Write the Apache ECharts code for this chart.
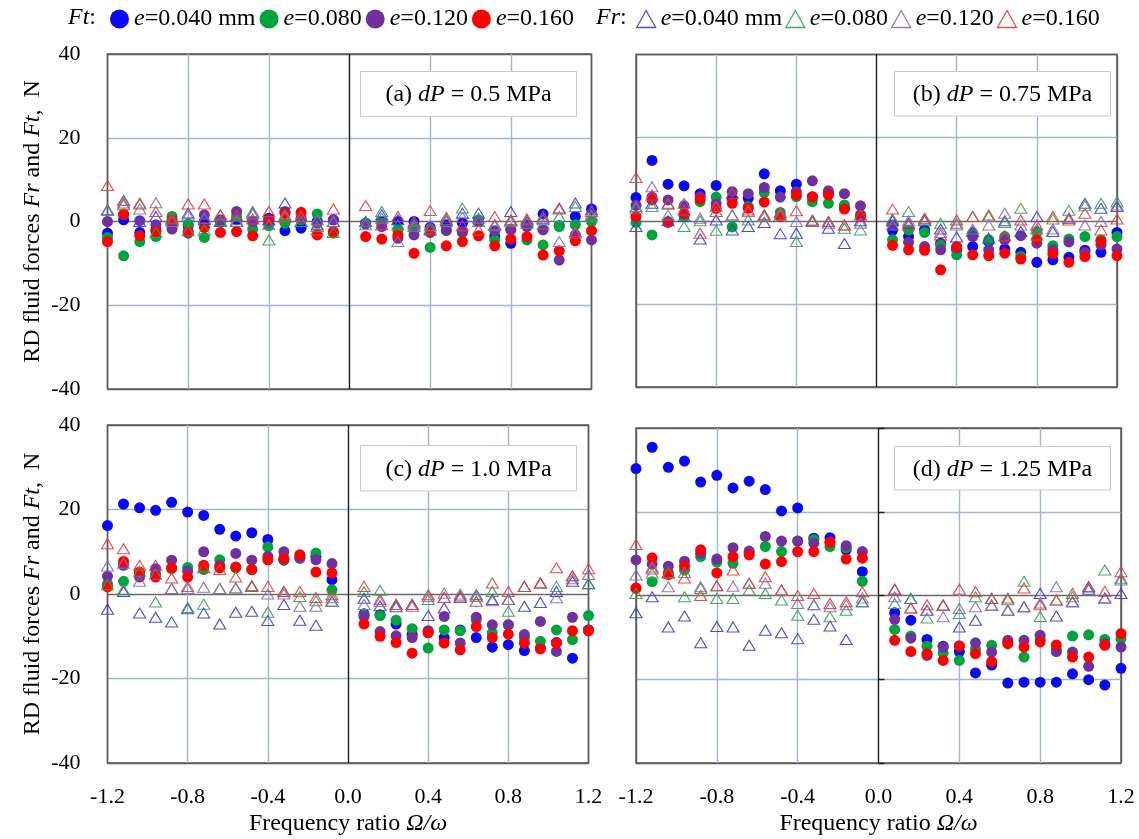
<!DOCTYPE html>
<html>
<head>
<meta charset="utf-8">
<script src="https://cdn.jsdelivr.net/npm/echarts@6/dist/echarts.min.js"></script>
<style>
  html, body { margin: 0; padding: 0; background: #ffffff; }
  #chart { width: 1139px; height: 839px; }
</style>
</head>
<body>
<div id="chart"></div>
<script>
// Frequency ratio Omega/omega of every measurement point
const ratios = [-1.2, -1.12, -1.04, -0.96, -0.88, -0.8, -0.72, -0.64, -0.56, -0.48, -0.4, -0.32, -0.24, -0.16, -0.08,
                0.08, 0.16, 0.24, 0.32, 0.4, 0.48, 0.56, 0.64, 0.72, 0.8, 0.88, 0.96, 1.04, 1.12, 1.2];

// (a) dP = 0.5 MPa — tangential force Ft, N
const ftA040 = [-2.8, 0.4, -2.6, -2.0, -0.4, -1.0, 0.0, 0.0, 0.4, 0.0, 0.8, -2.2, -1.6, 0.0, 0.4,
                -0.4, 0.0, 0.0, 0.0, -1.4, -0.8, -0.4, 0.0, -3.6, -5.2, -0.8, 1.8, -1.0, 1.2, 3.0];
const ftA080 = [-3.8, -8.2, -4.8, -3.6, 1.2, -0.6, -3.8, 0.2, 1.2, -1.8, -1.0, -0.4, 0.4, 1.8, -2.8,
                -0.4, -0.4, -2.0, -1.6, -6.2, -2.2, -2.6, 0.4, -4.4, -1.8, -4.4, -5.6, -1.2, -0.8, 0.0];
const ftA120 = [0.0, 1.6, 0.2, -0.8, -1.8, -2.8, 1.6, 0.4, 2.4, 0.0, 0.2, 2.4, 0.8, -0.4, 0.4,
                -0.6, -1.2, -4.0, -3.2, -1.8, -2.0, -2.4, 0.0, -2.2, -2.0, -1.2, -2.0, -9.2, -3.2, -4.4];
const ftA160 = [-4.8, 1.8, -3.4, -2.4, 0.4, -2.4, -1.4, -2.6, -2.4, -3.4, 0.4, 2.0, 2.2, -3.2, -2.4,
                -3.6, -4.2, -3.2, -7.6, -2.6, -5.8, -4.8, -3.4, -5.8, -4.2, -3.6, -8.0, -7.0, -4.6, -2.2];
// (a) dP = 0.5 MPa — radial force Fr, N
const frA040 = [2.8, 5.0, 0.0, 1.2, 0.4, 2.0, 0.4, 0.0, 0.0, 2.0, 0.4, 4.4, 0.0, -0.8, 0.0,
                0.0, 1.6, 0.4, -0.4, -2.0, 0.4, 2.0, 2.0, -0.8, 2.4, 0.0, 0.8, 3.2, 4.4, 2.8];
const frA080 = [2.8, 4.0, 4.4, -2.6, 0.8, -2.2, -2.0, 0.2, 0.0, 2.4, -4.4, 1.2, 0.0, -1.2, -2.6,
                0.0, 2.4, -0.8, -1.2, -1.8, 0.4, 3.2, 0.0, -0.8, 0.2, 0.4, 0.4, 1.2, 3.6, 1.6];
const frA120 = [2.6, 5.0, 3.0, 4.5, 0.0, 1.5, 0.8, 1.6, 0.4, 1.8, -0.8, 1.6, 1.2, 0.4, 0.0,
                -0.8, 0.8, -4.8, -0.8, -1.0, 0.0, 1.0, 0.8, -1.0, 0.0, -0.4, -0.6, -4.8, -2.8, 1.2];
const frA160 = [8.6, 4.4, 4.2, 2.4, 0.6, 4.2, 4.2, 1.6, 1.4, 0.6, 2.4, 1.0, 1.2, -2.0, 3.0,
                3.8, -0.8, 1.2, 0.0, 2.6, 1.0, -1.0, -2.0, 1.2, 0.4, 0.6, 1.2, 3.0, -2.4, 2.4];

// (b) dP = 0.75 MPa — Ft, N
const ftB040 = [5.6, 14.5, 8.8, 8.4, 6.5, 8.5, 5.4, 5.4, 11.3, 7.2, 8.8, 5.8, 6.6, 3.2, 1.4,
                -2.3, -3.8, -2.2, -5.4, -7.0, -6.2, -5.0, -6.8, -7.6, -10.0, -9.4, -8.8, -7.1, -7.6, -2.8];
const ftB080 = [-0.4, -3.4, -0.2, 1.0, 4.6, 5.7, -1.5, 3.4, 6.8, 2.0, 5.8, 4.6, 4.2, 3.8, 1.2,
                -4.6, -2.2, -2.8, -5.9, -8.2, -3.0, -4.6, -3.8, -8.6, -2.6, -6.0, -4.4, -3.8, -4.6, -3.8];
const ftB120 = [3.7, 5.7, 5.0, 3.6, 5.8, 4.1, 7.0, 6.5, 8.0, 5.7, 7.0, 9.6, 7.2, 6.5, 3.6,
                -1.0, -5.2, -6.2, -7.0, -6.6, -3.8, -7.0, -4.6, -3.6, -5.4, -7.0, -5.1, -7.6, -5.8, -6.8];
const ftB160 = [1.0, 5.0, -0.4, 1.7, 5.2, 3.0, 4.2, 3.0, 4.5, 1.0, 6.2, 5.7, 6.2, 2.8, 1.0,
                -5.9, -7.0, -7.1, -11.8, -6.2, -8.2, -8.4, -7.8, -9.2, -4.4, -7.9, -10.0, -8.6, -5.0, -8.4];
// (b) dP = 0.75 MPa — Fr, N
const frB040 = [-1.4, 4.2, 0.0, 1.0, -4.4, 0.2, -2.2, -1.4, -0.4, -3.1, -3.0, 0.0, -1.8, -5.5, 0.0,
                0.0, -0.6, 0.0, -2.0, -3.9, -2.6, -4.2, 0.0, -2.6, 1.0, -2.6, 0.6, 4.2, 3.0, 3.4];
const frB080 = [3.4, 3.4, 4.0, -1.4, 0.0, -2.3, 1.4, 0.2, 1.0, 1.4, -5.0, 0.2, -0.2, -1.8, -2.2,
                0.4, 2.2, 0.2, -0.6, -0.6, 1.0, 1.0, -0.4, 3.0, -3.4, 0.4, 2.5, 3.6, 4.2, 4.6];
const frB120 = [3.0, 8.2, 1.4, 4.2, 0.6, 3.4, 1.4, 2.2, 1.4, 1.4, -0.2, 0.0, -0.6, -1.0, -0.6,
                -1.0, 0.0, 0.4, -2.8, -1.0, -2.0, -1.0, 1.8, -1.0, -2.0, -2.0, 0.6, -1.0, -0.2, 3.8];
const frB160 = [10.4, 6.2, 4.2, 2.6, -3.0, 2.2, 6.6, 2.6, 1.4, 2.0, 2.4, -0.2, -0.2, -1.0, 1.4,
                2.8, -1.0, 0.6, -3.4, 0.2, 1.0, 1.4, -3.6, 0.2, -1.0, 1.0, 0.2, 1.8, -2.2, 0.4];

// (c) dP = 1.0 MPa — Ft, N
const ftC040 = [16.2, 21.3, 20.4, 19.8, 21.7, 19.4, 18.6, 15.3, 13.7, 14.5, 12.9, 8.0, 8.5, 8.9, 3.4,
                -4.7, -4.9, -7.1, -9.6, -8.9, -10.3, -8.5, -10.3, -12.6, -12.0, -13.4, -12.8, -11.5, -15.2, -8.5];
const ftC080 = [2.4, 3.0, 5.0, 4.7, 6.0, 6.3, 5.8, 8.1, 6.2, 5.8, 11.1, 8.2, 9.0, 9.7, 1.0,
                -5.0, -5.1, -6.2, -8.2, -12.8, -8.5, -8.7, -6.1, -9.2, -7.3, -10.3, -11.2, -8.5, -10.8, -5.1];
const ftC120 = [4.2, 6.8, 4.0, 6.0, 8.0, 5.4, 10.0, 6.8, 9.6, 8.0, 8.9, 10.0, 8.5, 8.1, 7.2,
                -5.3, -8.9, -9.9, -10.3, -8.7, -5.3, -11.6, -5.5, -7.3, -7.3, -9.6, -6.5, -13.6, -5.5, -8.5];
const ftC160 = [1.7, 7.7, 5.2, 4.0, 6.2, 4.0, 6.8, 6.2, 6.4, 5.8, 8.1, 8.4, 9.3, 5.2, 5.0,
                -7.1, -10.0, -11.5, -14.0, -9.2, -11.6, -13.2, -7.7, -10.3, -9.5, -11.6, -13.0, -11.6, -8.7, -8.7];
// (c) dP = 1.0 MPa — Fr, N
const frC040 = [-3.6, 0.6, -4.5, -5.5, -6.6, -3.5, -4.5, -7.1, -4.3, -4.1, -6.3, -2.5, -6.2, -7.4, -1.7,
                -1.0, -2.8, -3.0, -2.5, -5.1, -3.3, -0.5, -0.2, -1.3, -1.3, -2.9, -2.0, 0.6, 3.0, 2.4];
const frC080 = [2.2, 1.0, 5.4, -1.9, 1.3, -3.2, -2.4, 1.3, 1.4, 2.0, -4.3, 0.6, -0.6, -1.6, -0.9,
                0.6, 0.9, -2.5, -2.5, -1.3, -0.8, -0.8, -0.6, 0.6, -4.1, 1.8, 2.6, 1.8, 4.3, 2.4];
const frC120 = [6.6, 7.3, 3.0, 4.7, 1.3, 1.3, 1.6, 1.3, 1.4, 1.8, 0.0, 0.0, -2.9, -2.9, -1.7,
                -2.5, -1.8, -2.5, -2.9, -0.6, 0.2, 0.0, -0.2, -1.6, -1.3, 1.8, 2.6, -0.9, 3.6, 4.6];
const frC160 = [11.9, 10.7, 6.8, 6.8, 3.8, 1.8, 6.2, 5.8, 4.0, 1.8, 1.8, 0.6, 0.6, -0.8, -0.2,
                1.8, -1.3, -2.5, -2.5, -0.2, -0.8, -0.8, -1.7, 2.6, 0.6, 1.8, 2.6, 6.2, 4.3, 6.0];

// (d) dP = 1.25 MPa — Ft, N
const ftD040 = [30.3, 35.4, 30.6, 32.1, 27.1, 28.7, 25.7, 27.3, 25.3, 20.2, 20.9, 13.7, 13.8, 10.9, 5.7,
                -4.1, -5.9, -10.5, -12.1, -13.4, -18.5, -16.6, -20.9, -20.7, -20.7, -20.7, -18.7, -20.1, -21.4, -17.4];
const ftD080 = [1.7, 3.3, 5.5, 6.1, 9.3, 8.0, 7.7, 10.2, 11.7, 10.5, 13.0, 13.3, 11.7, 11.4, 3.4,
                -8.1, -9.7, -12.1, -13.7, -15.5, -12.8, -11.9, -11.0, -14.7, -10.4, -12.8, -9.7, -9.4, -10.5, -10.3];
const ftD120 = [8.5, 7.5, 7.0, 8.2, 10.1, 8.7, 11.4, 10.6, 14.1, 13.0, 13.0, 12.5, 12.8, 11.9, 10.5,
                -5.7, -10.2, -14.3, -12.3, -12.0, -11.3, -13.5, -10.7, -10.7, -9.5, -13.4, -13.5, -16.9, -11.5, -12.3];
const ftD160 = [1.8, 9.0, 5.0, 7.1, 10.9, 5.4, 9.3, 9.7, 7.5, 8.1, 10.5, 10.5, 12.7, 8.7, 8.9,
                -10.7, -13.4, -13.9, -15.5, -12.1, -13.9, -15.8, -11.5, -12.3, -11.1, -11.8, -14.7, -14.7, -11.9, -9.1];
// (d) dP = 1.25 MPa — Fr, N
const frD040 = [-4.1, -0.3, -7.5, -4.9, -11.3, -7.4, -7.5, -11.9, -8.3, -8.9, -10.3, -5.7, -7.3, -10.5, -1.5,
                1.5, -0.7, -3.5, -2.3, -7.5, -5.9, -2.3, -3.5, -2.7, 0.5, -4.9, -1.5, 1.5, -0.6, 0.5];
const frD080 = [0.5, 5.3, 5.5, -0.3, 1.7, -0.7, -0.7, 1.3, 0.5, -1.1, -4.7, -2.2, -5.1, -3.5, -1.5,
                -1.9, -0.7, -5.4, -2.3, -4.3, -0.3, -0.7, -1.0, 3.4, -5.0, -1.1, -0.3, 2.1, 6.1, 3.7];
const frD120 = [4.9, 6.8, 2.1, 5.5, 2.1, 2.3, 2.2, 2.9, 2.9, 1.3, -1.9, -2.2, -2.7, -2.2, -0.6,
                -0.3, -3.0, -3.5, -5.1, -3.1, -2.7, -2.3, -3.5, -2.7, -1.8, 2.1, -1.5, 2.1, -0.6, 4.1];
const frD160 = [12.2, 6.3, 5.3, 4.2, 0.0, 2.3, 6.1, 2.9, 4.5, 1.3, 0.0, 0.5, -1.9, -1.5, 0.9,
                1.5, -3.0, -2.2, -2.3, 1.5, 0.9, -0.7, -0.6, 1.8, -2.2, -1.1, 0.5, 2.1, 1.0, 5.7];

// Eccentricities, panel tags and pressure differences
const eLabels = ['0.040 mm', '0.080', '0.120', '0.160'];
const panelTags = ['(a)', '(b)', '(c)', '(d)'];
const pressures = ['0.5', '0.75', '1.0', '1.25'];

// Axis ticks
const xTicks = [-1.2, -0.8, -0.4, 0.0, 0.4, 0.8, 1.2];
const yTicks = [-40, -20, 0, 20, 40];

const ftSets = [[ftA040, ftA080, ftA120, ftA160], [ftB040, ftB080, ftB120, ftB160],
                [ftC040, ftC080, ftC120, ftC160], [ftD040, ftD080, ftD120, ftD160]];
const frSets = [[frA040, frA080, frA120, frA160], [frB040, frB080, frB120, frB160],
                [frC040, frC080, frC120, frC160], [frD040, frD080, frD120, frD160]];

const FONT = '"Liberation Serif", "Times New Roman", serif';
const dotColors = ['#0a0af2', '#00a33c', '#7030a0', '#ff0000'];
const edgeColors = ['#3b3bd8', '#3a9e55', '#8a6bb0', '#e23c3c'];
const FRAME = '#5c5c5c';
const GRIDLINE = '#a3b5cf';
const ZERO_V = '#1e1e1e';
const ZERO_H = '#6a6a6a';

// Panel rectangles: (a) top-left, (b) top-right, (c) bottom-left, (d) bottom-right
const panelRects = [
  { left: 107.5, top: 54, width: 484, height: 335 },
  { left: 636, top: 54.5, width: 481, height: 332.5 },
  { left: 107.5, top: 425, width: 481, height: 338 },
  { left: 636, top: 428, width: 485, height: 335 }
];

const italic = { fontStyle: 'italic', fontFamily: FONT, fontSize: 24, color: '#000' };

const grid = panelRects.map(r => Object.assign({ show: true, borderColor: FRAME, borderWidth: 1.5,
  backgroundColor: 'rgba(0,0,0,0)', containLabel: false }, r));

const xAxis = panelRects.map((r, p) => {
  const bottom = p >= 2;
  return {
    gridIndex: p, type: 'value',
    min: xTicks[0], max: xTicks[xTicks.length - 1], interval: 0.4,
    axisLine: { show: false, onZero: false }, axisTick: { show: false },
    splitLine: { show: true, lineStyle: { width: 1.4,
      color: xTicks.map(t => (t === 0 ? ZERO_V : (Math.abs(t) === 1.2 ? FRAME : GRIDLINE))) } },
    axisLabel: { show: bottom, margin: 23, fontFamily: FONT, fontSize: 22, color: '#000',
      showMinLabel: true, showMaxLabel: true,
      formatter: v => xTicks.reduce((a, t) => Math.abs(t - v) < Math.abs(a - v) ? t : a).toFixed(1) },
    name: bottom ? 'Frequency ratio {i|Ω/ω}' : '',
    nameLocation: 'middle', nameGap: 49,
    nameTextStyle: { fontFamily: FONT, fontSize: 24, color: '#000', rich: { i: italic } }
  };
});

// Panel (d) carries short ticks on its x = 0 line: a second left axis shifted to the centre of the panel
const zeroAxes = [{
  gridIndex: 3, type: 'value', position: 'left', offset: -panelRects[3].width / 2,
  min: yTicks[0], max: yTicks[yTicks.length - 1], interval: 20,
  axisLine: { show: false, onZero: false },
  axisTick: { show: true, inside: true, length: 6, lineStyle: { color: ZERO_V, width: 1.4 } },
  axisLabel: { show: false }, splitLine: { show: false }
}];

const yAxis = panelRects.map((r, p) => {
  const leftSide = p % 2 === 0;
  return {
    gridIndex: p, type: 'value', position: 'left',
    min: yTicks[0], max: yTicks[yTicks.length - 1], interval: 20,
    axisLine: { show: false, onZero: false }, axisTick: { show: false },
    splitLine: { show: true, lineStyle: { width: 1.4,
      color: yTicks.map(t => (t === 0 ? ZERO_H : (Math.abs(t) === 40 ? FRAME : GRIDLINE))) } },
    axisLabel: { show: leftSide, margin: 27, fontFamily: FONT, fontSize: 22, color: '#000',
      showMinLabel: true, showMaxLabel: true },
    name: leftSide ? 'RD fluid forces {i|Fr} and {i|Ft},  N' : '',
    nameLocation: 'middle', nameGap: 63,
    nameTextStyle: { fontFamily: FONT, fontSize: 24, color: '#000', rich: { i: italic } }
  };
}).concat(zeroAxes);

const series = [];
panelRects.forEach((r, p) => {
  ftSets[p].forEach((vals, k) => {
    series.push({
      type: 'scatter', name: 'Ft' + k, xAxisIndex: p, yAxisIndex: p,
      symbol: 'circle', symbolSize: 11, silent: true, z: 2,
      itemStyle: { color: dotColors[k], opacity: 1 },
      data: ratios.map((x, i) => [x, vals[i]])
    });
  });
});
panelRects.forEach((r, p) => {
  frSets[p].forEach((vals, k) => {
    series.push({
      type: 'scatter', name: 'Fr' + k, xAxisIndex: p, yAxisIndex: p,
      symbol: 'triangle', symbolSize: [12, 10], silent: true, z: 3,
      itemStyle: { color: 'rgba(255,255,255,0)', borderColor: edgeColors[k], borderWidth: 1.1, opacity: 0.9 },
      data: ratios.map((x, i) => [x, vals[i]])
    });
  });
});

const legendText = { fontFamily: FONT, fontSize: 24, color: '#000', rich: { i: italic } };
const legend = [
  { data: eLabels.map((e, k) => 'Ft' + k), left: 105, top: 2, icon: 'circle',
    itemWidth: 19, itemHeight: 19, itemGap: 4, selectedMode: false,
    formatter: n => '{i|e}=' + eLabels[+n.slice(2)], textStyle: legendText },
  { data: eLabels.map((e, k) => 'Fr' + k), left: 631, top: 2, icon: 'triangle',
    itemWidth: 19, itemHeight: 17, itemGap: 3, selectedMode: false,
    itemStyle: { borderWidth: 1.3 },
    formatter: n => '{i|e}=' + eLabels[+n.slice(2)], textStyle: legendText }
];

// Legend group captions and the boxed panel labels
const captionRich = { i: { fontStyle: 'italic', fontFamily: FONT, fontSize: 24, fill: '#000' } };
const graphic = [
  { type: 'text', left: 68, top: 6,
    style: { text: '{i|Ft}:', fontFamily: FONT, fontSize: 24, fill: '#000', rich: captionRich } },
  { type: 'text', left: 596, top: 6,
    style: { text: '{i|Fr}:', fontFamily: FONT, fontSize: 24, fill: '#000', rich: captionRich } }
];
const boxes = [
  { x: 360.5, y: 71.5, w: 216, h: 45 },
  { x: 894.5, y: 71.5, w: 216, h: 44.5 },
  { x: 360.5, y: 445.5, w: 216, h: 45.5 },
  { x: 894.5, y: 446.5, w: 216, h: 43.5 }
];
boxes.forEach((b, p) => {
  graphic.push({ type: 'rect', z: 20, shape: { x: b.x, y: b.y, width: b.w, height: b.h },
    style: { fill: '#ffffff', stroke: '#cbcbcb', lineWidth: 1 } });
  graphic.push({ type: 'text', z: 21, x: b.x + b.w / 2, y: b.y + b.h / 2 + 1,
    style: { text: panelTags[p] + ' {i|dP} = ' + pressures[p] + ' MPa', align: 'center', verticalAlign: 'middle',
             fontFamily: FONT, fontSize: 24, fill: '#000', rich: captionRich } });
});

const chart = echarts.init(document.getElementById('chart'), null, { renderer: 'canvas' });
chart.setOption({
  animation: false,
  backgroundColor: '#ffffff',
  grid, xAxis, yAxis, series, legend, graphic
});
</script>
</body>
</html>
